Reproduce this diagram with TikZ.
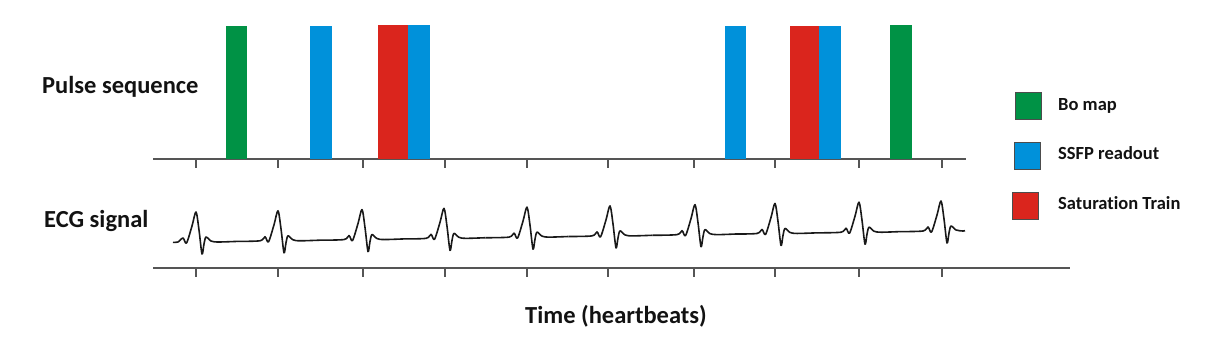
\documentclass[tikz,border=0pt]{standalone}
\usepackage{fontspec}
\setmainfont{Carlito}[Ligatures=NoCommon]
\definecolor{cgreen}{RGB}{0,146,69}
\definecolor{cblue}{RGB}{0,145,218}
\definecolor{cred}{RGB}{218,37,29}
\definecolor{caxis}{RGB}{85,85,85}
\begin{document}
\begin{tikzpicture}[x=1pt,y=-1pt,
  axis/.style={draw=caxis,line width=1.4pt},
  tick/.style={draw=caxis,line width=1.2pt},
  ecg/.style={draw=black!90,line width=1.6pt,line join=round},
  lbl/.style={font=\fontsize{24.5}{28}\selectfont\bfseries,text=black!93,inner sep=0pt},
  leg/.style={font=\fontsize{18.5}{21}\selectfont\bfseries,text=black!93,inner sep=0pt,anchor=west},
  legbox/.style={draw=black!70,line width=0.8pt,minimum width=26pt,minimum height=27pt,inner sep=0pt}]
\useasboundingbox (0,0) rectangle (1213,356);
% labels
\node[lbl,anchor=west] (ps) at (42,87) {Pulse sequence};
\node[lbl,anchor=west] (ecgl) at (44,221) {ECG signal};
\node[lbl] (time) at (616,316) {Time (heartbeats)};
% axes
\coordinate (a1) at (153,159); \coordinate (a2) at (966,159);
\coordinate (b1) at (153,268); \coordinate (b2) at (1070,268);
\draw[axis] (a1) -- (a2);
\draw[axis] (b1) -- (b2);
\foreach \t in {196,278,363,445,527,608,694,775,859,942}{
  \draw[tick] (\t,159) -- (\t,168);
  \draw[tick] (\t,268) -- (\t,277);
}
% bars
\fill[cgreen] (226,26) rectangle (247,159);
\fill[cblue] (310,26) rectangle (332,159);
\fill[cred] (378,25) rectangle (408,159);
\fill[cblue] (408,25) rectangle (430,159);
\fill[cblue] (725,26) rectangle (746,159);
\fill[cred] (790,26) rectangle (819,159);
\fill[cblue] (819,26) rectangle (841,159);
\fill[cgreen] (890,25) rectangle (912,159);
% ECG
\foreach \p/\l/\r in {196/173/237,278/237/320,362/320/403,444/403/485.5,527/485.5/568.5,610/568.5/652.5,695/652.5/735,775/735/817,859/817/900,941/900/965}{
  \pgfmathsetmacro\b{242-11*(\p-196)/745}
  \pgfmathsetmacro\bl{242-11*(\l-196)/745}
  \pgfmathsetmacro\br{242-11*(\r-196)/745}
  \draw[ecg] plot[smooth,tension=0.5] coordinates {({\l},{\bl}) ({\p-18},{\b}) ({\p-13},{\b-4}) ({\p-9.5},{\b+1}) ({\p-4},{\b-16}) ({\p},{\b-30}) ({\p+3},{\b-12}) ({\p+6},{\b+12}) ({\p+8},{\b+2}) ({\p+10},{\b-5}) ({\p+15},{\b-1}) ({\p+22},{\b}) ({\r},{\br})};
}
% legend
\node[legbox,fill=cgreen] (lg1) at (1028,106) {};
\node[legbox,fill=cblue] (lg2) at (1027,155.5) {};
\node[legbox,fill=cred] (lg3) at (1025,205.5) {};
\node[leg] (lt1) at (1058,106) {Bo map};
\node[leg] (lt2) at (1058,153) {SSFP readout};
\node[leg] (lt3) at (1058,203) {Saturation Train};
\end{tikzpicture}
\end{document}
